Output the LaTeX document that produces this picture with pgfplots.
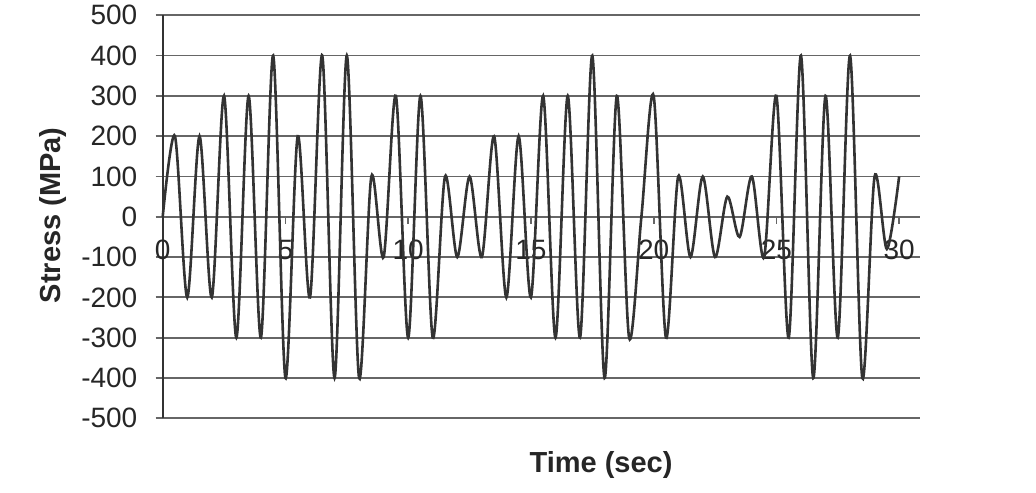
\documentclass[border=0pt]{standalone}
\usepackage{pgfplots}
\pgfplotsset{compat=1.18}
\usepackage{fontspec}
\setmainfont{Liberation Sans}
\begin{document}
\begin{tikzpicture}
\begin{axis}[
  at={(0pt,0pt)}, anchor=south west,
  scale only axis, width=378.65pt, height=201.5pt,
  xmin=0, xmax=30.85, ymin=-500, ymax=500,
  axis x line=middle, axis y line=left,
  x axis line style={-, draw=black!60, line width=0.9pt},
  y axis line style={-, draw=black!80, line width=1pt},
  hide obscured x ticks=false, hide obscured y ticks=false,
  xtick={0,5,...,30}, ytick={-500,-400,...,500},
  ymajorgrids, xmajorgrids=false,
  grid style={draw=black!60, line width=0.9pt},
  tick align=outside, major tick length=3.5pt,
  tick style={draw=black!60, line width=0.9pt},
  /pgf/number format/assume math mode=true,
  tick label style={font=\fontsize{14}{14}\selectfont, text=black!85},
  yticklabel style={anchor=east, inner sep=0pt, xshift=-9pt},
  xticklabel style={anchor=north, inner sep=0pt, yshift=-8pt},
  xlabel={\textbf{Time (sec)}}, ylabel={\textbf{Stress (MPa)}},
  label style={font=\fontsize{14.5}{14.5}\selectfont, text=black!85},
  xlabel style={at={(axis description cs:0.5788,-0.1166)}, anchor=center},
  ylabel style={at={(axis description cs:-0.1449,0.504)}, anchor=center, rotate=0},
  clip=false,
]
\addplot[smooth, draw=black!80, line width=1.3pt] coordinates {
(0,0) (0.5,200) (1,-200) (1.5,200) (2,-200) (2.5,300) (3,-300) (3.5,300) (4,-300)
(4.5,400) (5,-400) (5.5,200) (6,-200) (6.5,400) (7,-400) (7.5,400) (8,-400)
(8.5,100) (9,-100) (9.5,300) (10,-300) (10.5,300) (11,-300) (11.5,100) (12,-100)
(12.5,100) (13,-100) (13.5,200) (14,-200) (14.5,200) (15,-200) (15.5,300) (16,-300)
(16.5,300) (17,-300) (17.5,400) (18,-400) (18.5,300) (19,-300) (19.5,0) (20,300)
(20.5,-300) (21,100) (21.5,-100) (22,100) (22.5,-100) (23,50) (23.5,-50) (24,100)
(24.5,-100) (25,300) (25.5,-300) (26,400) (26.5,-400) (27,300) (27.5,-300) (28,400)
(28.5,-400) (29,100) (29.5,-80) (30,100)
};
\end{axis}
\pgfresetboundingbox
\path[use as bounding box] (-81.35pt,-36.85pt) rectangle (436.65pt,209.15pt);
\end{tikzpicture}
\end{document}
